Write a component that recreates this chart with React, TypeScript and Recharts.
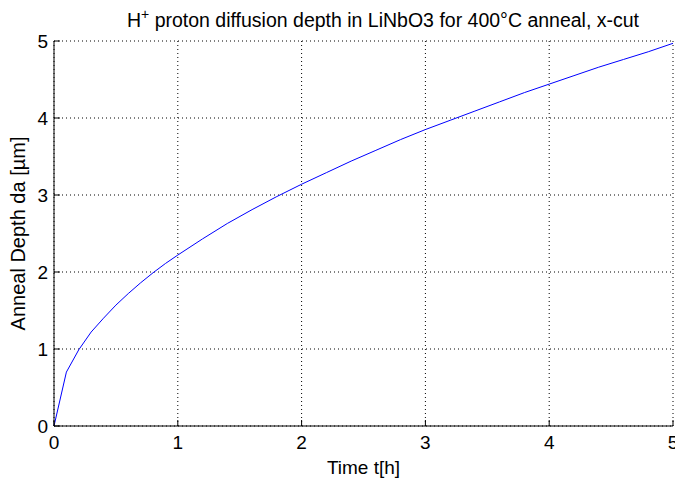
import { LineChart, Line, XAxis, YAxis, CartesianGrid, Label } from 'recharts';

// anneal time [h] and diffusion depth [um]
const times = [0, 0.1, 0.2, 0.3, 0.4, 0.5, 0.6, 0.7, 0.8, 0.9, 1.0, 1.2, 1.4, 1.6, 1.8, 2.0, 2.2, 2.4, 2.6, 2.8, 3.0, 3.2, 3.4, 3.6, 3.8, 4.0, 4.2, 4.4, 4.6, 4.8, 5.0];
const depths = [0, 0.7, 0.99, 1.22, 1.4, 1.57, 1.72, 1.86, 1.99, 2.11, 2.22, 2.43, 2.63, 2.81, 2.98, 3.14, 3.29, 3.44, 3.58, 3.72, 3.85, 3.97, 4.09, 4.21, 4.33, 4.44, 4.55, 4.66, 4.76, 4.86, 4.97];
const xTicks = [0, 1, 2, 3, 4, 5];
const yTicks = [0, 1, 2, 3, 4, 5];

const data = times.map((t, i) => ({ t, d: depths[i] }));

const FONT = '"Liberation Sans", Arial, Helvetica, sans-serif';
const TICK_LEN = 6;

const BottomTick = ({ x, y, payload }: any) => (
  <g>
    <line x1={x} y1={y} x2={x} y2={y - TICK_LEN} stroke="#000" />
    <text x={x} y={y + 23} textAnchor="middle" fontSize={19} fontFamily={FONT} fill="#000">
      {payload.value}
    </text>
  </g>
);

const LeftTick = ({ x, y, payload }: any) => (
  <g>
    <line x1={x} y1={y} x2={x + TICK_LEN} y2={y} stroke="#000" />
    <text x={x - 6} y={y + 7} textAnchor="end" fontSize={19} fontFamily={FONT} fill="#000">
      {payload.value}
    </text>
  </g>
);

const TopTick = ({ x, y }: any) => <line x1={x} y1={y} x2={x} y2={y + TICK_LEN} stroke="#000" />;

const RightTick = ({ x, y }: any) => <line x1={x} y1={y} x2={x - TICK_LEN} y2={y} stroke="#000" />;

export default function App() {
  return (
    <div style={{ position: 'absolute', left: 0, top: 0, width: 675, height: 480, background: '#fff' }}>
      <svg width={675} height={40} style={{ position: 'absolute', left: 0, top: 0 }}>
        <text x={383} y={27} textAnchor="middle" fontSize={19.5} fontFamily={FONT} fill="#000">
          H<tspan dy={-8} fontSize={14}>+</tspan>
          <tspan dy={8}> proton diffusion depth in LiNbO3 for 400°C anneal, x-cut</tspan>
        </text>
      </svg>
      <LineChart width={675} height={480} data={data} margin={{ top: 41, right: 2, bottom: 0, left: 0 }}>
        <CartesianGrid stroke="#000" strokeDasharray="1 3" />
        <XAxis
          dataKey="t"
          type="number"
          domain={[0, 5]}
          ticks={xTicks}
          height={54}
          tickSize={0}
          tickMargin={0}
          tickLine={false}
          tick={<BottomTick />}
          axisLine={{ stroke: '#000' }}
          interval={0}
        >
          <Label value="Time t[h]" position="insideBottom" offset={6} fontSize={19} fontFamily={FONT} fill="#000" />
        </XAxis>
        <XAxis
          xAxisId="top"
          orientation="top"
          type="number"
          domain={[0, 5]}
          ticks={xTicks}
          height={0}
          tickSize={0}
          tickMargin={0}
          tickLine={false}
          tick={<TopTick />}
          axisLine={{ stroke: '#000' }}
          interval={0}
        />
        <YAxis
          type="number"
          domain={[0, 5]}
          ticks={yTicks}
          width={54}
          tickSize={0}
          tickMargin={0}
          tickLine={false}
          tick={<LeftTick />}
          axisLine={{ stroke: '#000' }}
          interval={0}
        >
          <Label
            value="Anneal Depth da [µm]"
            angle={-90}
            position="insideLeft"
            offset={0}
            dx={18}
            style={{ textAnchor: 'middle' }}
            fontSize={20}
            fontFamily={FONT}
            fill="#000"
          />
        </YAxis>
        <YAxis
          yAxisId="right"
          orientation="right"
          type="number"
          domain={[0, 5]}
          ticks={yTicks}
          width={0}
          tickSize={0}
          tickMargin={0}
          tickLine={false}
          tick={<RightTick />}
          axisLine={{ stroke: '#000' }}
          interval={0}
        />
        <Line
          type="linear"
          dataKey="d"
          stroke="#0000ff"
          strokeWidth={1}
          dot={false}
          activeDot={false}
          isAnimationActive={false}
        />
      </LineChart>
    </div>
  );
}
